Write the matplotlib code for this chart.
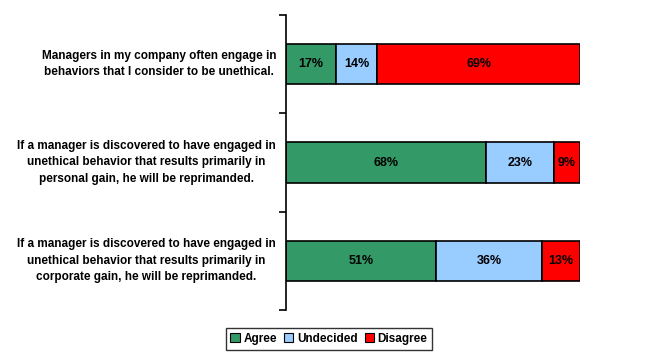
import matplotlib

matplotlib.use("Agg")
import matplotlib.pyplot as plt
from matplotlib.patches import Patch
from matplotlib.transforms import blended_transform_factory

questions = [
    "Managers in my company often engage in\nbehaviors that I consider to be unethical.",
    "If a manager is discovered to have engaged in\nunethical behavior that results primarily in\npersonal gain, he will be reprimanded.",
    "If a manager is discovered to have engaged in\nunethical behavior that results primarily in\ncorporate gain, he will be reprimanded.",
]
series = ["Agree", "Undecided", "Disagree"]
agree = [17, 68, 51]
undecided = [14, 23, 36]
disagree = [69, 9, 13]
colors = ["#339966", "#99CCFF", "#FF0000"]

plt.rcParams["font.family"] = ["Liberation Sans", "DejaVu Sans"]

W, H = 655, 360
fig = plt.figure(figsize=(W / 100, H / 100), dpi=100)
ax = fig.add_axes([286 / W, 1 - 310 / H, (580 - 286) / W, (310 - 15) / H])

ypos = list(range(len(questions)))
left = [0] * len(questions)
for name, vals, col in zip(series, [agree, undecided, disagree], colors):
    ax.barh(ypos, vals, left=left, height=0.41, color=col,
            edgecolor="black", linewidth=1.2, label=name)
    for y, l, v in zip(ypos, left, vals):
        ax.text(l + v / 2, y, f"{v}%", ha="center", va="center",
                fontsize=9, fontweight="bold", color="black")
    left = [a + b for a, b in zip(left, vals)]

ax.set_xlim(0, 100)
ax.set_ylim(len(questions) - 0.5, -0.5)
for side in ["top", "right", "bottom"]:
    ax.spines[side].set_visible(False)
ax.spines["left"].set_linewidth(1.2)
ax.set_xticks([])
ax.set_yticks([])
ax.set_yticks([y - 0.5 for y in range(len(questions) + 1)], minor=True)
ax.tick_params(axis="y", which="minor", length=5, width=1.2, direction="out")

# category labels: right-aligned blocks, lines centred within each block
trans = blended_transform_factory(fig.transFigure, ax.transData)
for y, q in zip(ypos, questions):
    ax.text(276 / W, y, q, transform=trans, ha="right",
            multialignment="center", va="center", fontsize=8.5,
            fontweight="bold", linespacing=1.5)

handles = [Patch(facecolor=c, edgecolor="black", linewidth=0.8, label=s)
           for s, c in zip(series, colors)]
leg = fig.legend(handles=handles, loc="center", ncol=3,
                 bbox_to_anchor=(329 / W, 1 - 339 / H),
                 frameon=True, fancybox=False, edgecolor="black",
                 prop={"size": 8.5, "weight": "bold"},
                 handlelength=0.8, handleheight=0.8, handletextpad=0.3,
                 columnspacing=0.6, borderpad=0.4)
leg.get_frame().set_linewidth(1.0)

fig.savefig("out.png", dpi=100)
